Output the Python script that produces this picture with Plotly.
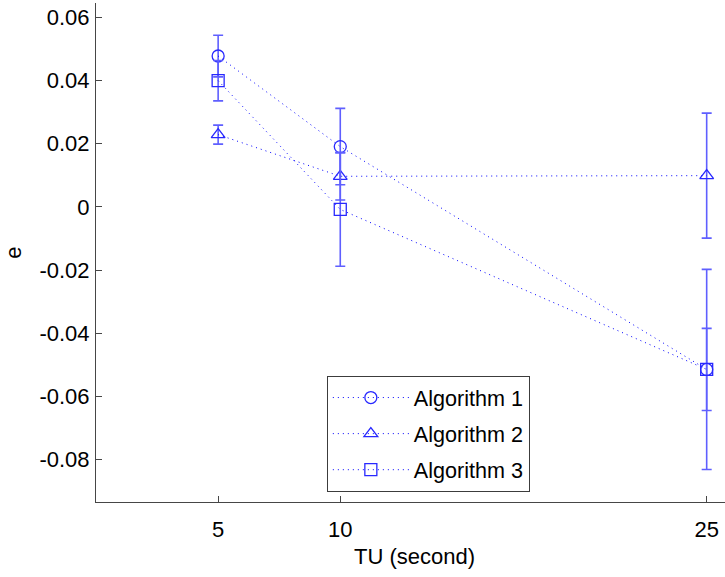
import plotly.graph_objects as go

# Test durations (x) and mean error e with symmetric error-bar half-widths
tu = [5, 10, 25]

alg1_e = [0.0478, 0.0191, -0.0515]
alg1_err = [0.0066, 0.0121, 0.0317]

alg2_e = [0.0229, 0.0097, 0.0099]
alg2_err = [0.0030, 0.0075, 0.0198]

alg3_e = [0.0400, -0.0008, -0.0515]
alg3_err = [0.0064, 0.0180, 0.0130]

series_names = ["Algorithm 1", "Algorithm 2", "Algorithm 3"]
series_symbols = ["circle-open", "triangle-up-open", "square-open"]

x_tick_vals = [5, 10, 25]
y_tick_vals = [-0.08, -0.06, -0.04, -0.02, 0, 0.02, 0.04, 0.06]
y_tick_text = ["-0.08", "-0.06", "-0.04", "-0.02", "0", "0.02", "0.04", "0.06"]

FONT = "Liberation Sans, Arial, Helvetica, sans-serif"
BLUE = "rgb(0,0,255)"
BAR_BLUE = "rgb(95,95,255)"
AXIS_GREY = "rgb(70,70,70)"

fig = go.Figure()
for i, (name, sym, ys, errs) in enumerate(zip(
        series_names, series_symbols,
        [alg1_e, alg2_e, alg3_e], [alg1_err, alg2_err, alg3_err])):
    fig.add_trace(go.Scatter(
        x=tu, y=ys, name=name, mode="lines+markers",
        legendgroup=f"g{i}",
        line=dict(color=BLUE, width=1, dash="1px,4px"),
        marker=dict(symbol=sym, size=12, color="rgb(40,40,255)",
                    line=dict(width=1.3, color="rgb(40,40,255)")),
        error_y=dict(type="data", array=errs, visible=True,
                     color=BAR_BLUE, thickness=1.6, width=5),
    ))

fig.update_layout(
    width=725, height=577,
    margin=dict(l=96, r=0, t=3, b=75),
    paper_bgcolor="white", plot_bgcolor="white",
    font=dict(family=FONT, size=22, color="black"),
    showlegend=True,
    legend=dict(
        x=0.367, y=0.2525, xanchor="left", yanchor="top",
        bordercolor="rgb(60,60,60)", borderwidth=1, bgcolor="white",
        font=dict(family=FONT, size=21.6, color="black"),
        traceorder="grouped", tracegroupgap=5, itemwidth=76,
    ),
    xaxis=dict(
        range=[0, 25.75], tickmode="array", tickvals=x_tick_vals,
        ticks="inside", ticklen=6, tickcolor=AXIS_GREY,
        showline=True, linecolor=AXIS_GREY, linewidth=1,
        showgrid=False, zeroline=False, ticklabelstandoff=8,
        tickfont=dict(family=FONT, size=22, color="black"),
    ),
    yaxis=dict(
        range=[-0.0935, 0.0646], tickmode="array",
        tickvals=y_tick_vals, ticktext=y_tick_text,
        ticks="inside", ticklen=6, tickcolor=AXIS_GREY,
        showline=True, linecolor=AXIS_GREY, linewidth=1,
        showgrid=False, zeroline=False, ticklabelstandoff=1,
        tickfont=dict(family=FONT, size=22, color="black"),
        title=dict(text="e", standoff=11,
                   font=dict(family=FONT, size=22, color="black")),
    ),
    # x-axis label, centred under the full axis span
    annotations=[dict(
        text="TU (second)", xref="paper", yref="paper",
        x=0.507, y=-0.110, xanchor="center", yanchor="middle",
        showarrow=False, font=dict(family=FONT, size=22, color="black"),
    )],
)

fig.write_html("out.html")
